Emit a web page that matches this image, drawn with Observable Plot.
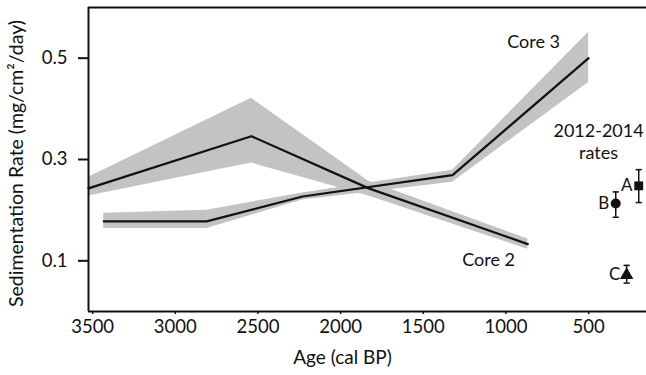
<!DOCTYPE html>
<html>
<head>
<meta charset="utf-8">
<script src="https://cdn.jsdelivr.net/npm/d3@7"></script>
<script src="https://cdn.jsdelivr.net/npm/@observablehq/plot@0.6"></script>
<style>
  html, body { margin: 0; padding: 0; background: #fff; }
</style>
</head>
<body>
<div id="chart"></div>
<script>
// Core 2
const core2Age = [3525, 2540, 1830, 868];
const core2Rate = [0.243, 0.346, 0.243, 0.133];
const core2Lo = [0.228, 0.293, 0.228, 0.123];
const core2Hi = [0.265, 0.421, 0.257, 0.143];

// Core 3
const core3Age = [3433, 2810, 2230, 1323, 500];
const core3Rate = [0.178, 0.178, 0.227, 0.269, 0.500];
const core3Lo = [0.164, 0.164, 0.220, 0.255, 0.452];
const core3Hi = [0.194, 0.200, 0.234, 0.279, 0.551];

// 2012-2014 rates
const siteLabels = ["A", "B", "C"];
const siteAge = [197, 336, 270];
const siteRate = [0.248, 0.213, 0.072];
const siteLo = [0.215, 0.186, 0.056];
const siteHi = [0.280, 0.236, 0.091];
const siteSymbols = ["square", "circle", "triangle"];

const xTicks = [3500, 3000, 2500, 2000, 1500, 1000, 500];
const yTicks = [0.1, 0.3, 0.5];
const xDomain = [3525, 150];
const yDomain = [0, 0.6];

const core2 = core2Age.map((a, i) => ({age: a, rate: core2Rate[i], lo: core2Lo[i], hi: core2Hi[i]}));
const core3 = core3Age.map((a, i) => ({age: a, rate: core3Rate[i], lo: core3Lo[i], hi: core3Hi[i]}));
const sites = siteLabels.map((l, i) => ({label: l, age: siteAge[i], rate: siteRate[i], lo: siteLo[i], hi: siteHi[i], symbol: siteSymbols[i]}));

const capSymbol = {
  draw(context, size) {
    const r = Math.sqrt(size) / 2;
    context.moveTo(-r, 0);
    context.lineTo(r, 0);
  }
};

const font = "Lato, 'Open Sans', sans-serif";
const ink = "#111";

const chart = Plot.plot({
  width: 646,
  height: 375,
  marginLeft: 88,
  marginRight: 0,
  marginTop: 7,
  marginBottom: 64,
  style: {fontFamily: font, fontSize: "18px", color: ink, background: "#fff"},
  x: {domain: xDomain, range: [88, 646]},
  y: {domain: yDomain},
  symbol: {domain: siteSymbols, range: siteSymbols},
  marks: [
    Plot.areaY(core2, {x: "age", y1: "lo", y2: "hi", fill: "#c3c3c3"}),
    Plot.areaY(core3, {x: "age", y1: "lo", y2: "hi", fill: "#c3c3c3"}),
    Plot.lineY(core2, {x: "age", y: "rate", stroke: ink, strokeWidth: 2.2}),
    Plot.lineY(core3, {x: "age", y: "rate", stroke: ink, strokeWidth: 2.2}),
    Plot.ruleX(sites, {x: "age", y1: "lo", y2: "hi", stroke: ink, strokeWidth: 1.5}),
    Plot.dot(sites, {x: "age", y: "lo", symbol: () => capSymbol, r: 3.5, stroke: ink, strokeWidth: 1.5}),
    Plot.dot(sites, {x: "age", y: "hi", symbol: () => capSymbol, r: 3.5, stroke: ink, strokeWidth: 1.5}),
    Plot.dot(sites, {x: "age", y: "rate", symbol: "symbol", r: 5, fill: ink, stroke: "none"}),
    Plot.text(sites, {x: "age", y: "rate", text: "label", dx: -12, fontSize: 17, fill: ink}),
    Plot.text(["Core 3"], {x: [833], y: [0.531], text: d => d, fontSize: 18, fill: ink}),
    Plot.text(["Core 2"], {x: [1105], y: [0.101], text: d => d, fontSize: 18, fill: ink}),
    Plot.text(["2012-2014"], {x: [440], y: [0.355], text: d => d, fontSize: 18, fill: ink}),
    Plot.text(["rates"], {x: [440], y: [0.312], text: d => d, fontSize: 18, fill: ink}),
    Plot.ruleY([yDomain[1]], {stroke: ink, strokeWidth: 2}),
    Plot.ruleY([yDomain[0]], {stroke: ink, strokeWidth: 2}),
    Plot.ruleX([xDomain[0]], {stroke: ink, strokeWidth: 2}),
    // tick marks
    Plot.axisY({ticks: yTicks, tickFormat: () => "", tickSize: 10, label: null, strokeWidth: 2, stroke: ink}),
    Plot.axisX({ticks: xTicks, tickFormat: () => "", tickSize: 3, label: null, strokeWidth: 1.5, stroke: ink}),
    // tick labels
    Plot.text(yTicks, {y: d => d, frameAnchor: "left", dx: -21, textAnchor: "end", text: d3.format(".1f"), fontSize: 18.5, fill: ink}),
    Plot.text(xTicks, {x: d => d, frameAnchor: "bottom", dy: 21, text: d => String(d), fontSize: 18.5, fill: ink}),
    // axis titles
    Plot.text(["Sedimentation Rate (mg/cm²/day)"], {frameAnchor: "left", dx: -72, dy: 4, rotate: -90, textAnchor: "middle", text: d => d, fontSize: 19.5, fill: ink}),
    Plot.text(["Age (cal BP)"], {frameAnchor: "bottom", dx: -25, dy: 52, textAnchor: "middle", text: d => d, fontSize: 19, fill: ink})
  ]
});

document.getElementById("chart").appendChild(chart);
</script>
</body>
</html>
